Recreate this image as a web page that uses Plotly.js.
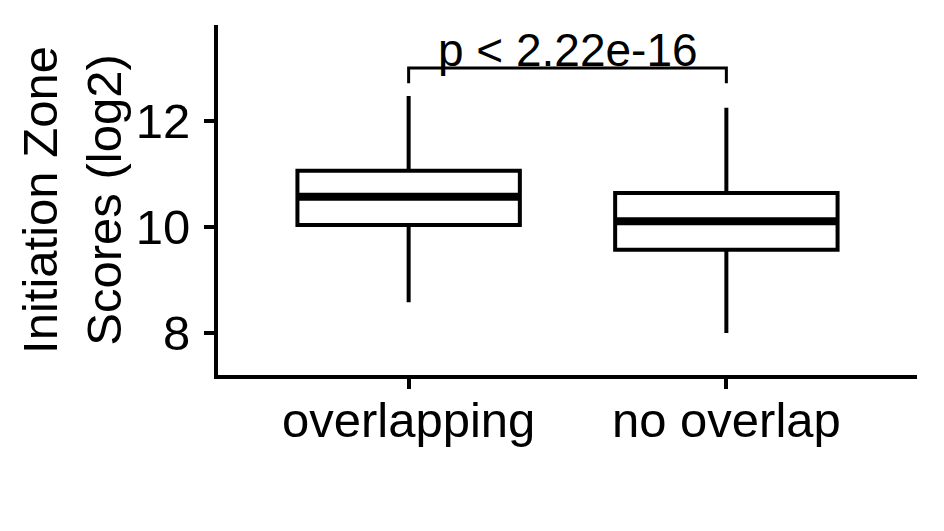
<!DOCTYPE html>
<html>
<head>
<meta charset="utf-8">
<script src="https://cdn.plot.ly/plotly-3.0.1.min.js"></script>
<style>html,body{margin:0;padding:0;background:#fff;} #chart{width:944px;height:531px;}</style>
</head>
<body>
<div id="chart"></div>
<script>
// Data
var categories = ["overlapping", "no overlap"];
var positions = [0, 1];
var lowerWhisker = [8.58, 8.00];
var q1 = [10.04, 9.57];
var medians = [10.57, 10.11];
var q3 = [11.06, 10.64];
var upperWhisker = [12.47, 12.25];
var pLabel = "p < 2.22e-16";
var bracketY = 13.0;
var bracketDrop = 12.71;

var boxWidth = 0.7;
var FONT = "Liberation Sans, Arial, Helvetica, sans-serif";

var boxTrace = {
  type: "box",
  x: positions,
  q1: q1,
  median: medians,
  q3: q3,
  lowerfence: lowerWhisker,
  upperfence: upperWhisker,
  width: boxWidth,
  whiskerwidth: 0,
  fillcolor: "#ffffff",
  line: {color: "#000000", width: 4},
  boxpoints: false,
  showlegend: false,
  hoverinfo: "skip"
};

// thick median bars
var mx = [], my = [];
for (var i = 0; i < positions.length; i++) {
  mx.push(positions[i] - boxWidth / 2, positions[i] + boxWidth / 2, null);
  my.push(medians[i], medians[i], null);
}
var medianTrace = {
  type: "scatter", mode: "lines", x: mx, y: my,
  line: {color: "#000000", width: 8}, showlegend: false, hoverinfo: "skip"
};

// significance bracket
var bracketTrace = {
  type: "scatter", mode: "lines",
  x: [positions[0], positions[0], positions[1], positions[1]],
  y: [bracketDrop, bracketY, bracketY, bracketDrop],
  line: {color: "#000000", width: 3}, showlegend: false, hoverinfo: "skip"
};

var layout = {
  width: 944, height: 531,
  margin: {l: 218, r: 27, t: 25, b: 156},
  paper_bgcolor: "#ffffff", plot_bgcolor: "#ffffff",
  font: {family: FONT, color: "#000000", size: 48},
  showlegend: false,
  xaxis: {
    range: [-0.6, 1.6],
    tickmode: "array", tickvals: positions, ticktext: categories,
    showline: true, linecolor: "#000000", linewidth: 4,
    ticks: "outside", ticklen: 10, tickwidth: 4, tickcolor: "#000000",
    showgrid: false, zeroline: false,
    tickfont: {family: FONT, size: 49, color: "#000000"},
    ticklabelstandoff: -11
  },
  yaxis: {
    range: [7.21, 13.81],
    tickvals: [8, 10, 12],
    showline: true, linecolor: "#000000", linewidth: 4,
    ticks: "outside", ticklen: 10, tickwidth: 4, tickcolor: "#000000",
    showgrid: false, zeroline: false,
    tickfont: {family: FONT, size: 49, color: "#000000"},
    ticklabelstandoff: 4,
    title: {text: "Initiation Zone<br>Scores (log2)", font: {family: FONT, size: 49, color: "#000000"}, standoff: 0}
  },
  annotations: [{
    x: (positions[0] + positions[1]) / 2, y: 13.33, xref: "x", yref: "y",
    text: pLabel, showarrow: false, yanchor: "middle",
    font: {family: FONT, size: 46, color: "#000000"}
  }]
};

Plotly.newPlot("chart", [boxTrace, medianTrace, bracketTrace], layout, {displayModeBar: false, staticPlot: true});
</script>
</body>
</html>
